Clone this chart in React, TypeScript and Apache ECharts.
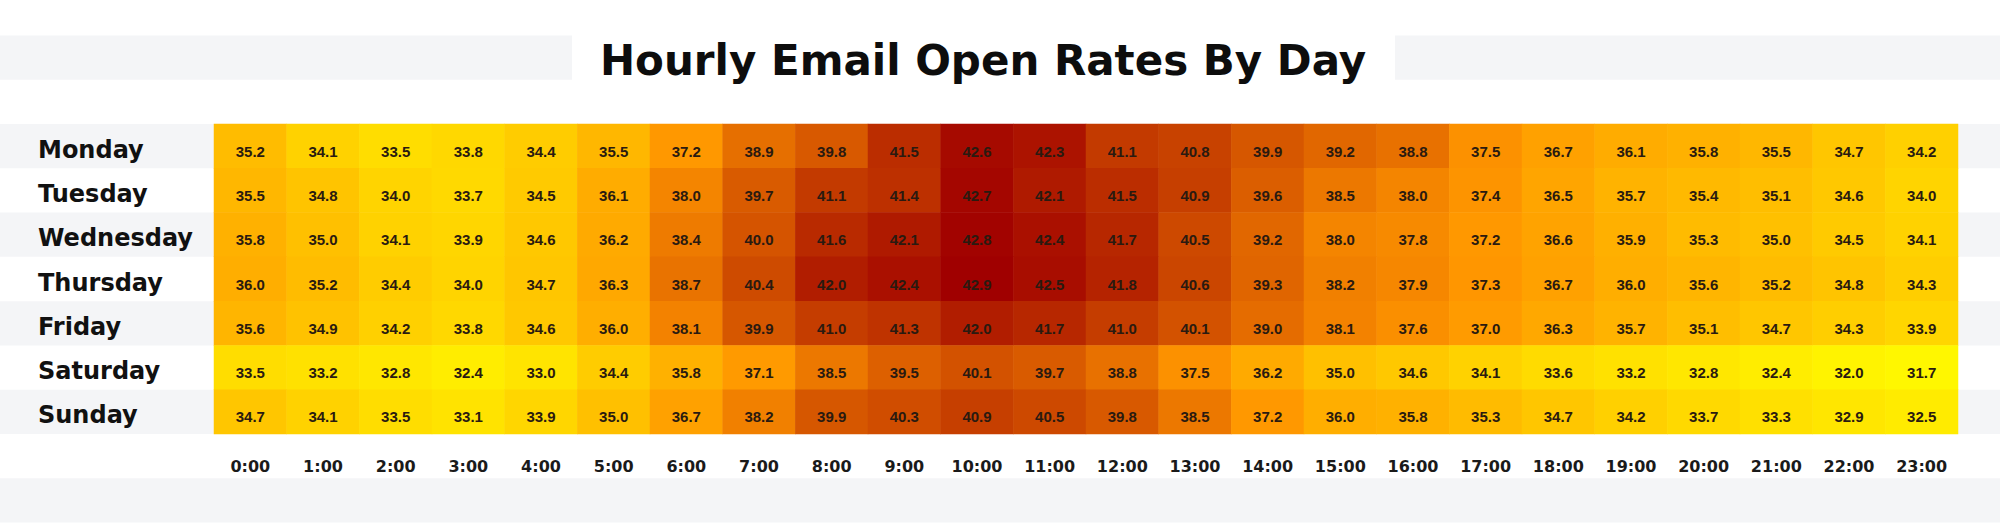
import React, { useEffect, useRef } from "react";
import * as echarts from "echarts";

const days = ["Monday", "Tuesday", "Wednesday", "Thursday", "Friday", "Saturday", "Sunday"];
const hours = [
  "0:00", "1:00", "2:00", "3:00", "4:00", "5:00", "6:00", "7:00", "8:00", "9:00", "10:00", "11:00",
  "12:00", "13:00", "14:00", "15:00", "16:00", "17:00", "18:00", "19:00", "20:00", "21:00", "22:00", "23:00",
];

const monday = [35.2, 34.1, 33.5, 33.8, 34.4, 35.5, 37.2, 38.9, 39.8, 41.5, 42.6, 42.3, 41.1, 40.8, 39.9, 39.2, 38.8, 37.5, 36.7, 36.1, 35.8, 35.5, 34.7, 34.2];
const tuesday = [35.5, 34.8, 34.0, 33.7, 34.5, 36.1, 38.0, 39.7, 41.1, 41.4, 42.7, 42.1, 41.5, 40.9, 39.6, 38.5, 38.0, 37.4, 36.5, 35.7, 35.4, 35.1, 34.6, 34.0];
const wednesday = [35.8, 35.0, 34.1, 33.9, 34.6, 36.2, 38.4, 40.0, 41.6, 42.1, 42.8, 42.4, 41.7, 40.5, 39.2, 38.0, 37.8, 37.2, 36.6, 35.9, 35.3, 35.0, 34.5, 34.1];
const thursday = [36.0, 35.2, 34.4, 34.0, 34.7, 36.3, 38.7, 40.4, 42.0, 42.4, 42.9, 42.5, 41.8, 40.6, 39.3, 38.2, 37.9, 37.3, 36.7, 36.0, 35.6, 35.2, 34.8, 34.3];
const friday = [35.6, 34.9, 34.2, 33.8, 34.6, 36.0, 38.1, 39.9, 41.0, 41.3, 42.0, 41.7, 41.0, 40.1, 39.0, 38.1, 37.6, 37.0, 36.3, 35.7, 35.1, 34.7, 34.3, 33.9];
const saturday = [33.5, 33.2, 32.8, 32.4, 33.0, 34.4, 35.8, 37.1, 38.5, 39.5, 40.1, 39.7, 38.8, 37.5, 36.2, 35.0, 34.6, 34.1, 33.6, 33.2, 32.8, 32.4, 32.0, 31.7];
const sunday = [34.7, 34.1, 33.5, 33.1, 33.9, 35.0, 36.7, 38.2, 39.9, 40.3, 40.9, 40.5, 39.8, 38.5, 37.2, 36.0, 35.8, 35.3, 34.7, 34.2, 33.7, 33.3, 32.9, 32.5];

const rows = [monday, tuesday, wednesday, thursday, friday, saturday, sunday];

const W = 2000;
const H = 525;
const GRID_LEFT = 214;
const GRID_RIGHT = 42;
const GRID_TOP = 124;
const GRID_H = 310;
const BAND = GRID_H / 7;
const GRAY = "#f4f5f7";

export default function App() {
  const ref = useRef<HTMLDivElement>(null);

  useEffect(() => {
    if (!ref.current) return;
    const chart = echarts.init(ref.current, null, { renderer: "svg", width: W, height: H });

    const data: [number, number, number][] = [];
    rows.forEach((r, y) => r.forEach((v, x) => data.push([x, y, v])));

    const bands: any[] = [];
    for (let k = 0; k < 11; k++) {
      if (k % 2 === 0) {
        bands.push({
          type: "rect",
          z: -10,
          shape: { x: 0, y: GRID_TOP - 2 * BAND + k * BAND, width: W, height: BAND },
          style: { fill: GRAY },
          silent: true,
        });
      }
    }
    bands.push({
      type: "rect",
      z: -5,
      shape: { x: 572, y: GRID_TOP - 2 * BAND - 1, width: 823, height: BAND + 2 },
      style: { fill: "#ffffff" },
      silent: true,
    });

    chart.setOption({
      animation: false,
      backgroundColor: "#ffffff",
      title: {
        text: "Hourly Email Open Rates By Day",
        left: 983,
        top: GRID_TOP - 2 * BAND + 2,
        textAlign: "center",
        padding: 0,
        textStyle: {
          fontFamily: "DejaVu Sans",
          fontWeight: "bold",
          fontSize: 42,
          color: "#0d0d0d",
          lineHeight: 46,
        },
      },
      graphic: { elements: bands },
      grid: {
        left: GRID_LEFT,
        right: GRID_RIGHT,
        top: GRID_TOP,
        height: GRID_H,
      },
      xAxis: {
        type: "category",
        data: hours,
        axisLine: { show: false },
        axisTick: { show: false },
        splitArea: { show: false },
        axisLabel: {
          margin: 24,
          fontFamily: "DejaVu Sans",
          fontWeight: "bold",
          fontSize: 16,
          color: "#1a1a1a",
        },
      },
      yAxis: {
        type: "category",
        data: days,
        inverse: true,
        axisLine: { show: false },
        axisTick: { show: false },
        axisLabel: {
          margin: GRID_LEFT - 38,
          align: "left",
          formatter: "{d|{value}}",
          rich: {
            d: {
              padding: [7, 0, 0, 0],
              fontFamily: "DejaVu Sans",
              fontWeight: "bold",
              fontSize: 24,
              color: "#111111",
            },
          },
        },
      },
      visualMap: {
        show: false,
        min: 31.7,
        max: 42.9,
        dimension: 2,
        inRange: {
          color: ["#fff700", "#ffdc00", "#ffb800", "#ff9600", "#e26800", "#c43c00", "#a00000"],
        },
      },
      series: [
        {
          type: "heatmap",
          data,
          itemStyle: { borderWidth: 0 },
          label: {
            show: true,
            formatter: (p: any) => p.value[2].toFixed(1),
            fontFamily: "Liberation Sans",
            fontWeight: "bold",
            fontSize: 15,
            color: "#2a1a10",
            offset: [0, 5],
          },
        },
      ],
    });

    return () => chart.dispose();
  }, []);

  return (
    <div
      ref={ref}
      style={{ position: "fixed", left: 0, top: 0, width: W, height: H, background: "#fff" }}
    />
  );
}
